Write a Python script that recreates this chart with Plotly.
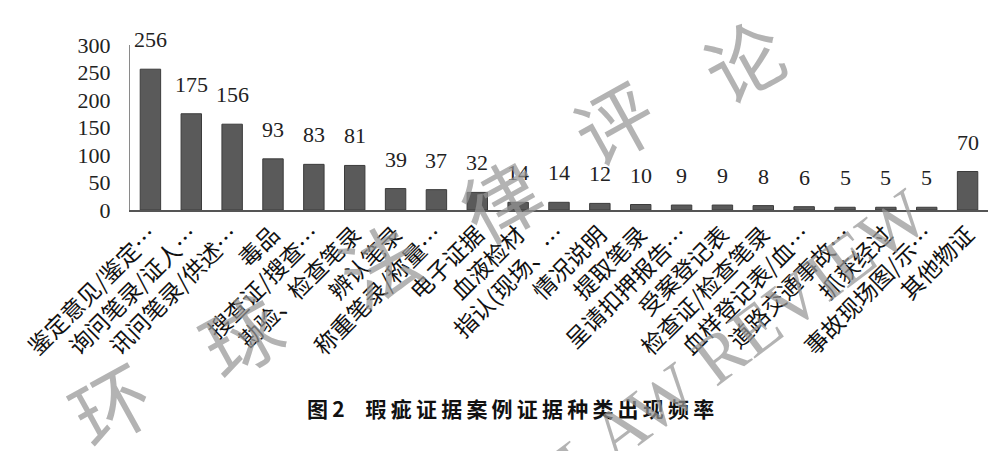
import plotly.graph_objects as go

categories = ["鉴定意见/鉴定…", "询问笔录/证人…", "讯问笔录/供述…", "毒品", "搜查证/搜查…",
              "勘验、检查笔录", "辨认笔录", "称重笔录/称量…", "电子证据", "血液检材",
              "指认(现场、…", "情况说明", "提取笔录", "呈请扣押报告…", "受案登记表",
              "检查证/检查笔录", "血样登记表/血…", "道路交通事故…", "抓获经过", "事故现场图/示…",
              "其他物证"]
counts = [256, 175, 156, 93, 83, 81, 39, 37, 32, 14, 14, 12, 10, 9, 9, 8, 6, 5, 5, 5, 70]
y_ticks = [0, 50, 100, 150, 200, 250, 300]
caption_label = "图\u20092"
caption_title = "瑕疵证据案例证据种类出现频率"
watermark_chars = ["环", "球", "法", "律", "评", "论"]
watermark_en = "LAW REVIEW"

W, H = 988, 451
ML, MR, MT, MB = 130, 0, 45, 241
PW, PH = W - ML - MR, H - MT - MB


def px(x):
    return (x - ML) / PW


def py(y):
    return (H - MB - y) / PH


fig = go.Figure()
fig.add_trace(go.Bar(
    x=categories, y=counts,
    marker=dict(color="#5a5a5a", line=dict(color="#3c3c3c", width=1)),
    width=0.5, hoverinfo="x+y",
))

annotations = []
for c, v in zip(categories, counts):
    annotations.append(dict(
        x=c, y=v, xref="x", yref="y", text=str(v), showarrow=False,
        yanchor="bottom", yshift=15,
        font=dict(family="Liberation Serif", size=22, color="#222222"),
    ))

caption = caption_label + "\u3000" + "\u2009".join(caption_title)
annotations.append(dict(
    x=px(510), y=py(408), xref="paper", yref="paper", text=caption, showarrow=False,
    xanchor="center", yanchor="middle",
    font=dict(family="Noto Sans CJK SC", size=21, color="#111111", weight="bold"),
))

# watermark
wm_pos = [(110, 402), (240, 333), (378, 262), (500, 198), (613, 120), (743, 58)]
for ch, (wx, wy) in zip(watermark_chars, wm_pos):
    annotations.append(dict(
        x=px(wx), y=py(wy), xref="paper", yref="paper", text=ch, showarrow=False,
        xanchor="center", yanchor="middle", textangle=-29,
        font=dict(family="Noto Sans CJK SC", size=78, color="rgba(150,150,150,0.72)"),
    ))
annotations.append(dict(
    x=px(742), y=py(338), xref="paper", yref="paper", text=watermark_en, showarrow=False,
    xanchor="center", yanchor="middle", textangle=-37,
    font=dict(family="Liberation Serif", size=70, color="rgba(150,150,150,0.72)"),
))

fig.update_layout(
    width=W, height=H,
    margin=dict(l=ML, r=MR, t=MT, b=MB, pad=0),
    paper_bgcolor="white", plot_bgcolor="white",
    showlegend=False,
    bargap=0.5,
    annotations=annotations,
    xaxis=dict(
        showline=True, linecolor="#555555", linewidth=2,
        showgrid=False, ticks="", tickangle=-45,
        tickfont=dict(family="Noto Sans CJK SC", size=23, color="#111111"),
        fixedrange=True,
    ),
    yaxis=dict(
        range=[0, 300], tickvals=y_ticks,
        showline=True, linecolor="#8a8a8a", linewidth=1,
        showgrid=False, zeroline=False, ticks="",
        ticklabelstandoff=14,
        tickfont=dict(family="Liberation Serif", size=22, color="#222222"),
        fixedrange=True,
    ),
)

fig.write_html("out.html")
